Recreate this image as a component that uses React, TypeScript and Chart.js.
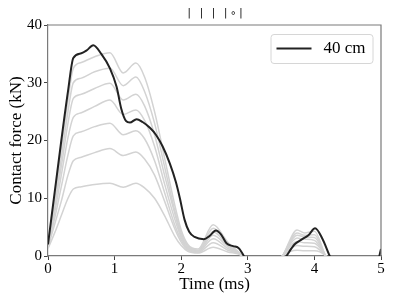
import React, { useEffect, useRef } from 'react';
import { Chart, registerables } from 'chart.js';

Chart.register(...registerables);

const TITLE = '| | | |\u2218|';
const X_LABEL = 'Time (ms)';
const Y_LABEL = 'Contact force (kN)';
const LEGEND_LABEL = '40 cm';
const X_TICKS = [0, 1, 2, 3, 4, 5];
const Y_TICKS = [0, 10, 20, 30, 40];

const TIME_BLACK = [0, 0.1, 0.2, 0.3, 0.38, 0.5, 0.58, 0.68, 0.8, 0.93, 1.03, 1.1, 1.17, 1.23, 1.33, 1.42, 1.53, 1.62, 1.72, 1.83, 1.92, 1.98, 2.05, 2.12, 2.2, 2.34, 2.43, 2.52, 2.6, 2.68, 2.78, 2.86, 2.94, 3.05, 3.4, 3.58, 3.7, 3.8, 3.91, 4.01, 4.12, 4.23, 4.35, 4.9, 5.0];
const FORCE_40CM = [2, 11, 20, 28.5, 34.3, 35.1, 35.6, 36.5, 35, 32.5, 29.3, 25.5, 23.4, 23.1, 23.7, 23.2, 22.2, 21, 19, 16, 12.8, 10, 6.3, 4.2, 3.3, 2.9, 3.5, 4.4, 3.7, 2.2, 1.7, 1.4, 0, -3, -3, 0, 2.0, 2.8, 3.6, 4.8, 3.0, 0, -3, -3, 1.2];

const TIME_GREY = [0, 0.1, 0.2, 0.3, 0.38, 0.5, 0.7, 0.93, 1.13, 1.32, 1.45, 1.6, 1.75, 1.9, 2.0, 2.1, 2.25, 2.48, 2.7, 2.92, 3.1, 3.3, 3.52, 3.74, 3.85, 4.0, 4.17, 4.35, 5.0];
const GREY_A = [2.0, 10, 18.5, 27, 32.5, 33.5, 34.5, 35.2, 31.7, 33.4, 31, 25, 17, 9, 4.5, 2.0, 1.2, 5.4, 2.4, 0, -3, -3, 0, 4.5, 4.0, 4.3, 0, -3, -3];
const GREY_B = [2.0, 9, 17, 25, 30, 30.8, 31.9, 32.5, 29.5, 31, 28.5, 23, 15.5, 8, 4.0, 1.8, 1.0, 4.8, 2.1, 0, -3, -3, 0, 4.0, 3.6, 3.7, 0, -3, -3];
const GREY_C = [2.0, 8.5, 15.5, 23, 27.3, 28, 29, 29.9, 27, 28, 26, 21, 14, 7.5, 3.5, 1.6, 0.9, 4.2, 1.8, 0, -3, -3, 0, 3.6, 3.3, 3.2, 0, -3, -3];
const GREY_D = [1.8, 7.5, 14, 20.5, 24, 24.8, 25.9, 27, 24.5, 25.3, 23.5, 19, 12.5, 6.5, 3.2, 1.4, 0.8, 3.6, 1.6, 0, -3, -3, 0, 3.1, 2.9, 2.7, 0, -3, -3];
const GREY_E = [1.6, 6.5, 12, 17.5, 20.8, 21.5, 22.4, 23, 21, 21.7, 20.3, 16.5, 11, 5.5, 2.8, 1.2, 0.7, 3.0, 1.3, 0, -3, -3, 0, 2.5, 2.3, 2.2, 0, -3, -3];
const GREY_F = [1.5, 5.5, 9.5, 14, 16.5, 17.1, 17.9, 18.6, 17.4, 18, 16.8, 14, 9.5, 4.8, 2.4, 1.0, 0.6, 2.3, 1.0, 0, -3, -3, 0, 1.8, 1.7, 1.6, 0, -3, -3];
const GREY_G = [1.3, 4, 7, 10, 11.6, 12, 12.4, 12.6, 11.9, 12.6, 11.8, 10, 7, 3.5, 1.8, 0.8, 0.5, 1.5, 0.7, 0, -3, -3, 0, 1.0, 0.9, 0.9, 0, -3, -3];
const GREY_SERIES = [GREY_A, GREY_B, GREY_C, GREY_D, GREY_E, GREY_F, GREY_G];

const SERIF = '"Liberation Serif", "Times New Roman", serif';
const BLACK = '#222222';
const GREY = '#d3d3d3';
const SPINE = '#7a7a7a';

const framePlugin = {
  id: 'frame',
  afterDatasetsDraw(chart: any) {
    const { ctx, chartArea } = chart;
    const { left, top, right, bottom } = chartArea;
    ctx.save();
    // top and right spines
    ctx.strokeStyle = SPINE;
    ctx.lineWidth = 1.2;
    ctx.beginPath();
    ctx.moveTo(left, top);
    ctx.lineTo(right, top);
    ctx.lineTo(right, bottom);
    ctx.stroke();

    // legend
    const bw = 102;
    const bh = 29;
    const bx = right - 8.5 - bw;
    const by = top + 9;
    ctx.beginPath();
    (ctx as any).roundRect(bx + 0.5, by + 0.5, bw, bh, 3);
    ctx.fillStyle = 'rgba(255,255,255,0.85)';
    ctx.fill();
    ctx.strokeStyle = '#d6d6d6';
    ctx.lineWidth = 1;
    ctx.stroke();
    ctx.strokeStyle = BLACK;
    ctx.lineWidth = 2;
    ctx.beginPath();
    ctx.moveTo(bx + 6, by + bh / 2);
    ctx.lineTo(bx + 41, by + bh / 2);
    ctx.stroke();
    ctx.fillStyle = '#000';
    ctx.font = `17px ${SERIF}`;
    ctx.textBaseline = 'middle';
    ctx.textAlign = 'left';
    ctx.fillText(LEGEND_LABEL, bx + 53, by + bh / 2);

    // title
    ctx.font = '10px "DejaVu Sans"';
    (ctx as any).letterSpacing = '2.8px';
    ctx.textAlign = 'center';
    ctx.fillText(TITLE, (left + right) / 2 + 2, top - 12);
    ctx.restore();
  },
};

export default function App() {
  const ref = useRef<HTMLCanvasElement>(null);
  useEffect(() => {
    document.body.style.margin = '0';
    const canvas = ref.current;
    if (!canvas) return;
    const greyDatasets = GREY_SERIES.map((arr, k) => ({
      label: 'grey' + k,
      data: TIME_GREY.map((t, i) => ({ x: t, y: arr[i] })),
      borderColor: GREY,
      borderWidth: 1.5,
      pointRadius: 0,
      cubicInterpolationMode: 'monotone' as const,
      clip: 0,
      order: 2,
    }));
    const chart = new Chart(canvas, {
      type: 'line',
      data: {
        datasets: [
          {
            label: LEGEND_LABEL,
            data: TIME_BLACK.map((t, i) => ({ x: t, y: FORCE_40CM[i] })),
            borderColor: BLACK,
            borderWidth: 2,
            pointRadius: 0,
            cubicInterpolationMode: 'monotone',
            clip: 0,
            order: 1,
          },
          ...greyDatasets,
        ],
      },
      options: {
        responsive: false,
        animation: false,
        devicePixelRatio: 1,
        layout: { padding: { top: 25, right: 14, left: 0, bottom: 0 } },
        plugins: {
          legend: { display: false },
          title: { display: false },
          tooltip: { enabled: false },
        },
        scales: {
          x: {
            type: 'linear',
            min: 0,
            max: 5,
            afterBuildTicks: (s: any) => {
              s.ticks = X_TICKS.map((v) => ({ value: v }));
            },
            afterFit: (s: any) => {
              s.height = 48;
            },
            ticks: {
              font: { family: SERIF, size: 15 },
              color: '#000',
              padding: 0,
              maxRotation: 0,
            },
            grid: {
              drawOnChartArea: false,
              drawTicks: true,
              tickLength: 4,
              tickColor: '#444',
              tickWidth: 1,
            },
            border: { color: SPINE, width: 1.2 },
            title: {
              display: true,
              text: X_LABEL,
              font: { family: SERIF, size: 17 },
              color: '#000',
              padding: { top: 0, bottom: 9 },
            },
          },
          y: {
            type: 'linear',
            min: 0,
            max: 40,
            afterBuildTicks: (s: any) => {
              s.ticks = Y_TICKS.map((v) => ({ value: v }));
            },
            afterFit: (s: any) => {
              s.width = 48;
            },
            ticks: {
              font: { family: SERIF, size: 15 },
              color: '#000',
              padding: 2,
            },
            grid: {
              drawOnChartArea: false,
              drawTicks: true,
              tickLength: 4,
              tickColor: '#444',
              tickWidth: 1,
            },
            border: { color: SPINE, width: 1.2 },
            title: {
              display: true,
              text: Y_LABEL,
              font: { family: SERIF, size: 17 },
              color: '#000',
              padding: { top: 6, bottom: 0 },
            },
          },
        },
      },
      plugins: [framePlugin],
    });
    return () => chart.destroy();
  }, []);
  return (
    <div style={{ position: 'absolute', left: 0, top: 0, width: 395, height: 304 }}>
      <canvas ref={ref} width={395} height={304} style={{ display: 'block' }} />
    </div>
  );
}
